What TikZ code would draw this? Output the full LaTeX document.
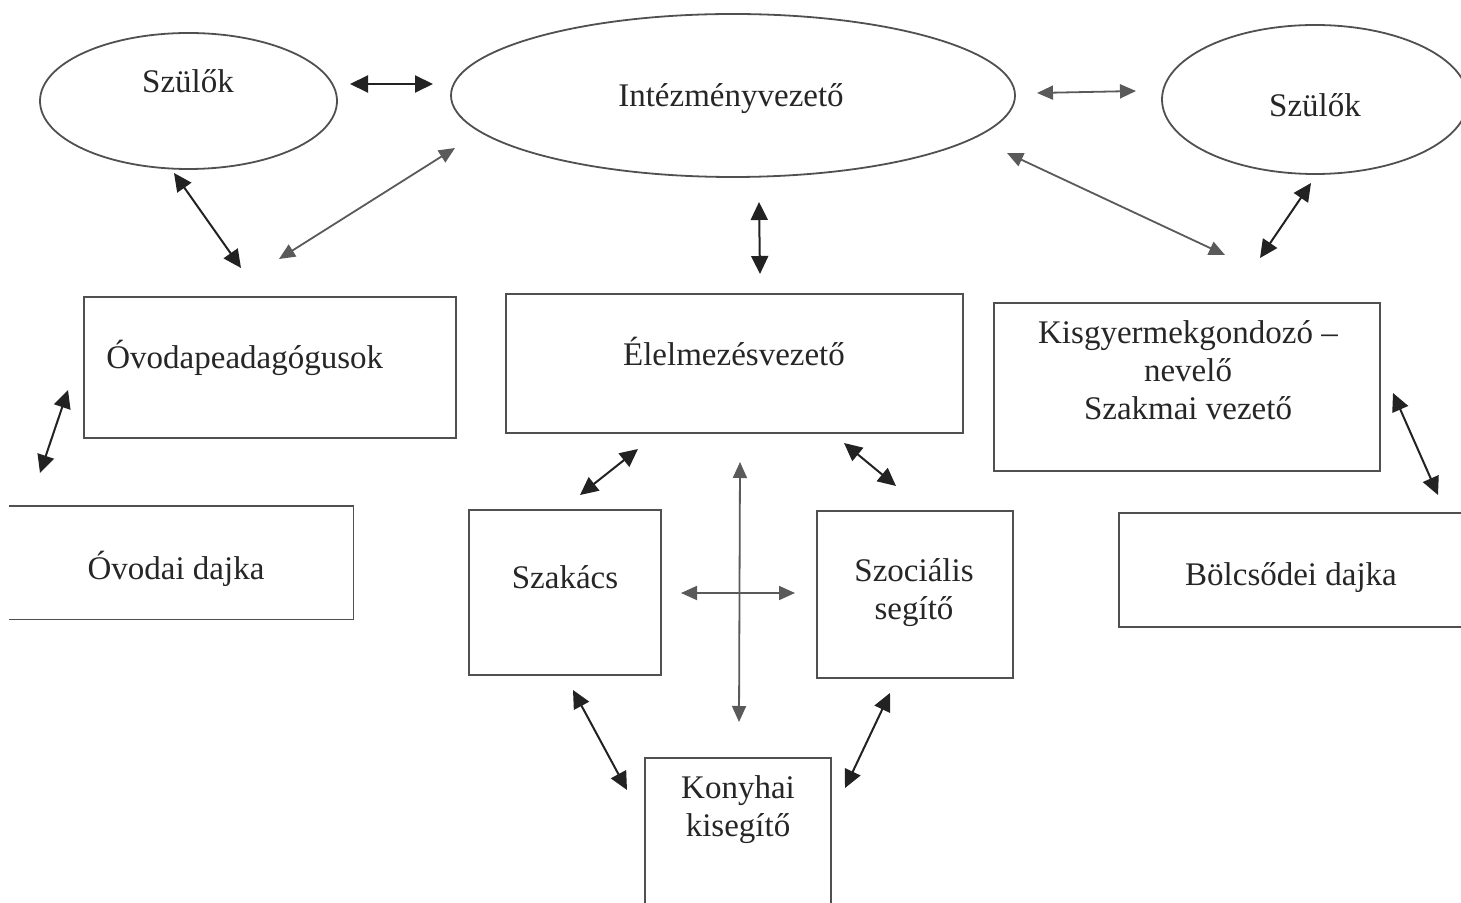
\documentclass[tikz,border=0pt]{standalone}
\usepackage{fontspec}
\setmainfont{Liberation Serif}
\usetikzlibrary{shapes.geometric,fit,arrows.meta}
\definecolor{boxgray}{HTML}{505050}
\definecolor{darkarrow}{HTML}{222222}
\definecolor{grayarrow}{HTML}{5A5A5A}
\definecolor{txtcol}{HTML}{262626}
\tikzset{
  ell/.style={ellipse, draw=boxgray, line width=0.9pt, inner sep=0pt},
  boxshape/.style={rectangle, draw=boxgray, line width=0.9pt, inner sep=0pt},
  framefree/.style={rectangle, draw=none, inner sep=0pt},
  boxline/.style={draw=boxgray, line width=0.9pt},
  lbl/.style={font=\fontsize{16.5pt}{19pt}\selectfont, text=txtcol, inner sep=0pt, align=center, anchor=base},
  darklink/.style={darkarrow, line width=1pt, {Triangle[length=9pt,width=8.5pt]}-{Triangle[length=9pt,width=8.5pt]}},
  graylink/.style={grayarrow, line width=0.9pt, {Triangle[length=8pt,width=7pt]}-{Triangle[length=8pt,width=7pt]}}
}
\begin{document}
\begin{tikzpicture}[x=0.5pt,y=-0.5pt]
\useasboundingbox (0,0) rectangle (1461,903);
\fill[white] (0,0) rectangle (1461,903);
\clip (0,0) rectangle (1461,903);

% ellipses
\node[ell, minimum width=148.5pt, minimum height=68pt] (szl) at (188.5,101) {};
\node[ell, minimum width=282pt, minimum height=81.5pt] (intez) at (733,95.5) {};
\node[ell, minimum width=153pt, minimum height=74.5pt] (szr) at (1315,99.5) {};
\node[lbl] (szlt) at (188,93) {Szülők};
\node[lbl] (intezt) at (731,107) {Intézményvezető};
\node[lbl] (szrt) at (1315,117) {Szülők};

% boxes
\node[boxshape, fit={(84,297) (456,438)}] (ovped) {};
\node[framefree, fit={(9,506) (353,619)}] (ovdajka) {};
\draw[boxline] (ovdajka.north west) -- (ovdajka.north east) -- (ovdajka.south east) -- (ovdajka.south west);
\node[boxshape, fit={(506,294) (963,433)}] (elelm) {};
\node[boxshape, fit={(994,303) (1380,471)}] (kisg) {};
\node[boxshape, fit={(1119,513) (1475,627)}] (bolcs) {};
\node[boxshape, fit={(469,510) (661,675)}] (szak) {};
\node[boxshape, fit={(817,511) (1013,678)}] (szoc) {};
\node[boxshape, fit={(645,758) (831,915)}] (kony) {};

% labels (multi-line labels are anchored at the baseline of their last line)
\node[lbl, anchor=base west] (ovpedt) at (106,369) {Óvodapeadagógusok};
\node[lbl] (ovdajkat) at (176,579) {Óvodai dajka};
\node[lbl] (elelmt) at (734,365) {Élelmezésvezető};
\node[lbl] (kisgt) at (1188,420) {Kisgyermekgondozó –\\nevelő\\Szakmai vezető};
\node[lbl] (bolcst) at (1291,585) {Bölcsődei dajka};
\node[lbl] (szakt) at (565,588) {Szakács};
\node[lbl] (szoct) at (914,619) {Szociális\\segítő};
\node[lbl] (konyt) at (738,836) {Konyhai\\kisegítő};

% arrow end points
\coordinate (a1s) at (350,84);   \coordinate (a1e) at (433,84);
\coordinate (a2s) at (1037,93);  \coordinate (a2e) at (1136,91);
\coordinate (a3s) at (174,173);  \coordinate (a3e) at (241,268);
\coordinate (a4s) at (455,148);  \coordinate (a4e) at (279,259);
\coordinate (a5s) at (759,202);  \coordinate (a5e) at (760,274);
\coordinate (a6s) at (1007,153); \coordinate (a6e) at (1225,255);
\coordinate (a7s) at (1311,183); \coordinate (a7e) at (1260,258);
\coordinate (a8s) at (68,390);   \coordinate (a8e) at (40,473);
\coordinate (a9s) at (638,449);  \coordinate (a9e) at (580,495);
\coordinate (a10s) at (844,443); \coordinate (a10e) at (896,486);
\coordinate (a11s) at (740,462); \coordinate (a11e) at (739,722);
\coordinate (a12s) at (681,593); \coordinate (a12e) at (795,593);
\coordinate (a13s) at (1393,393);\coordinate (a13e) at (1438,495);
\coordinate (a14s) at (573,690); \coordinate (a14e) at (627,790);
\coordinate (a15s) at (890,693); \coordinate (a15e) at (845,788);

\draw[darklink] (a1s) -- (a1e);
\draw[graylink] (a2s) -- (a2e);
\draw[darklink] (a3s) -- (a3e);
\draw[graylink] (a4s) -- (a4e);
\draw[darklink] (a5s) -- (a5e);
\draw[graylink] (a6s) -- (a6e);
\draw[darklink] (a7s) -- (a7e);
\draw[darklink] (a8s) -- (a8e);
\draw[darklink] (a9s) -- (a9e);
\draw[darklink] (a10s) -- (a10e);
\draw[graylink] (a11s) -- (a11e);
\draw[graylink] (a12s) -- (a12e);
\draw[darklink] (a13s) -- (a13e);
\draw[darklink] (a14s) -- (a14e);
\draw[darklink] (a15s) -- (a15e);
\end{tikzpicture}
\end{document}
